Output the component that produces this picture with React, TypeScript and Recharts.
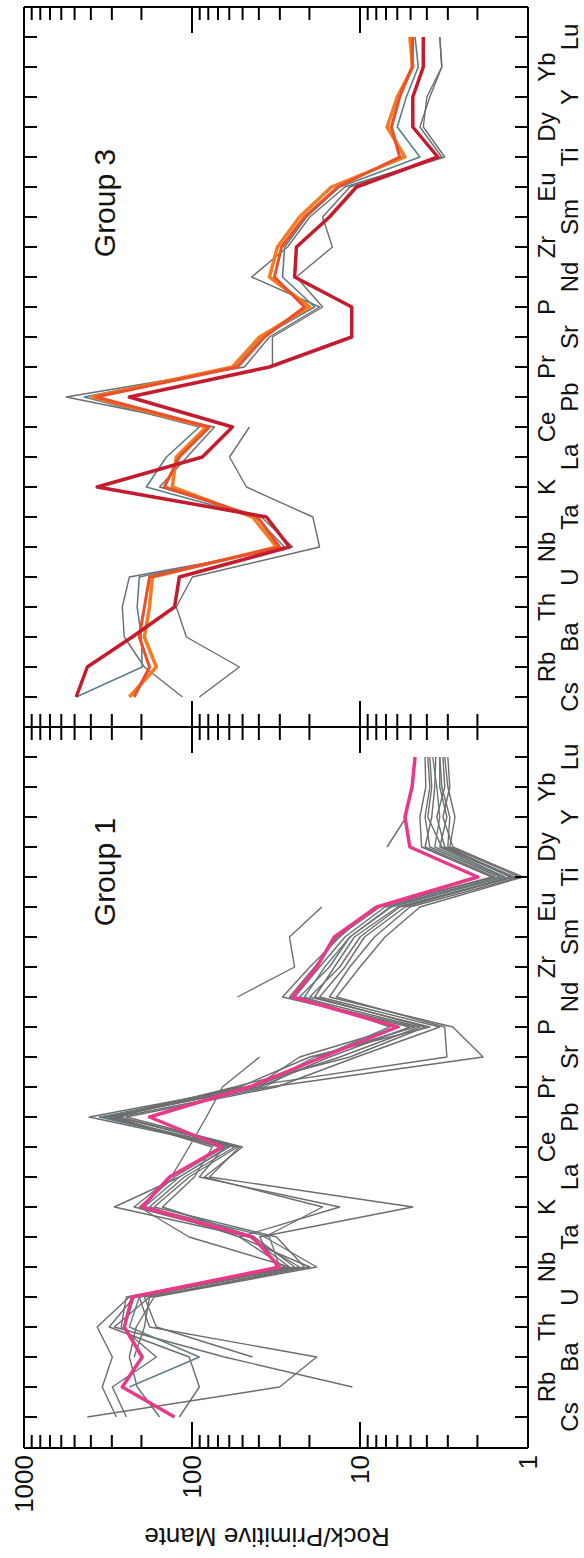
import { LineChart, Line, XAxis, YAxis } from "recharts";

// trace elements, primitive-mantle normalised (spider diagram)
const ELEMENTS = ["Cs", "Rb", "Ba", "Th", "U", "Nb", "Ta", "K", "La", "Ce", "Pb", "Pr", "Sr", "P", "Nd", "Zr", "Sm", "Eu", "Ti", "Dy", "Y", "Yb", "Lu"];
const LOG_TICKS = [1, 2, 3, 4, 5, 6, 7, 8, 9, 10, 20, 30, 40, 50, 60, 70, 80, 90, 100, 200, 300, 400, 500, 600, 700, 800, 900, 1000];
const MAJOR_TICKS = [1, 10, 100, 1000];

type Val = number | null;

// Group 1 samples
const g1Mean: Val[] = [127, 260, 198, 253, 227, 30.1, 43.6, 198, 136, 65.9, 179, 45.5, 16.7, 6.0, 25.2, 18.1, 14.2, 7.95, 1.99, 5.05, 5.4, 4.9, 4.7];
const g1A: Val[] = [420, 30.1, 18.1, 179, 206, 22.9, 45.5, 290, 119, 59.8, 409, 45.5, 13.2, 4.4, 22.9, 15.2, 11.5, 6.65, 1.37, 3.35, 3.04, 3.35, 3.35];
const g1B: Val[] = [null, 11.1, 64.1, 290, 179, 19.9, 52.2, 13.2, 90.4, 64.1, 333, 52.2, 19.9, 3.84, 19.9, 13.2, 10.0, 5.8, 1.2, 3.13, 3.49, 3.13, 3.21];
const g1C: Val[] = [null, null, 43.6, 163, 192, 31.4, 39.6, 4.85, 78.7, 52.2, 271, 34.6, 1.85, 2.8, 15.2, 11.5, 8.2, 5.05, 1.12, 2.92, 2.72, 3.0, 3.13];
const g1D: Val[] = [282, 342, 298, 367, 236, 26.3, 104, 206, 127, 64.1, 311, 42.5, 22.9, 5.8, 24.5, 17.4, 12.3, 7.1, 1.47, 3.84, 4.1, 3.84, 3.95];
const g1E: Val[] = [246, 298, 163, 264, 246, 28.1, 52.2, 179, 111, 55.9, 342, 39.6, 15.2, 5.05, 28.9, 19.9, 13.2, 8.2, 1.57, 4.1, 3.74, 3.59, 3.54];
const g1F: Val[] = [156, 212, 236, 215, 168, 18.1, 37.0, 16.7, 84.4, 50.1, 246, 31.4, 10.5, 3.35, 17.4, 12.3, 9.4, 5.4, 1.28, 3.0, 2.92, 3.26, 3.35];
const g1G: Val[] = [119, 90.4, 104, 311, 221, 24.5, 42.5, 150, 96.8, 75.6, 290, 48.7, 3.04, 3.13, 13.8, 10.0, 7.1, 4.4, 1.07, 2.8, 3.21, 2.92, 3.0];
const g1H: Val[] = [null, 236, 90.4, 236, 206, 30.1, 34.6, 192, 119, 61.5, 357, 37.0, 17.4, 6.65, 21.4, 16.2, 11.5, 6.5, 1.41, 3.59, 3.35, 3.49, 3.69];
const g1I: Val[] = [null, null, 221, 192, 179, 21.4, 31.4, 168, 104, 53.6, 282, 55.9, 11.5, 4.1, 18.6, 14.2, 10.8, 5.96, 1.25, 3.26, 3.95, 3.74, 3.84];
const g1J: Val[] = [null, null, null, 253, 221, 26.3, 45.5, 221, 133, 68.7, 311, 40.7, 18.6, 4.7, 26.3, 18.6, 13.6, 7.6, 1.64, 4.3, 4.4, 4.06, 4.1];
const g1K: Val[] = [null, null, null, null, null, null, null, null, 133, 104, 82.1, 65.9, 39.6, null, 53.6, 24.5, 26.3, 16.9, null, 6.9, 5.3, null, null];

// Group 3 samples
const g3DarkRed: Val[] = [489, 420, 227, 127, 119, 26.3, 36.0, 367, 86.7, 57.4, 236, 34.6, 11.2, 11.2, 24.5, 23.9, 15.2, 10.5, 3.44, 4.85, 4.85, 4.2, 4.2];
const g3Orange: Val[] = [236, 163, 192, 179, 172, 31.4, 43.6, 131, 124, 82.1, 393, 57.4, 39.6, 19.9, 34.6, 31.0, 22.9, 14.8, 5.4, 6.9, 6.0, 4.85, 5.05];
const g3RedOrange: Val[] = [221, 179, 206, 192, 179, 30.1, 40.7, 146, 119, 78.7, 372, 53.6, 37.0, 21.4, 32.3, 29.3, 21.4, 13.6, 5.8, 6.5, 5.8, 4.9, 4.85];
const g3Teal: Val[] = [489, 198, 200, 212, 206, 28.1, 41.9, 187, 142, 90.4, 438, 55.9, 38.6, 18.6, 28.9, 28.1, 20.8, 13.2, 4.4, 6.0, 5.3, 4.5, 4.7];
const g3GrayA: Val[] = [90.4, 52.2, 108, 124, 99.5, 17.4, 19.1, 47.4, 59.8, 45.5, null, 33.2, 33.2, 16.7, 23.9, 14.6, 16.7, 11.5, 3.13, 4.2, 4.0, 3.26, 3.35];
const g3GrayB: Val[] = [114, 192, 253, 260, 236, 25.2, 38.6, 156, 107, 73.5, 561, 48.7, 34.6, 17.4, 44.2, 27.0, 19.9, 12.3, 3.26, 4.4, 3.84, 3.26, 3.35];

const GRAY = "#6d6d6d";
const FONT = '"Liberation Sans", Arial, Helvetica, sans-serif';
const axisStyle = { stroke: "#000", strokeWidth: 2 };

const group1Lines = [
  { key: "a", color: GRAY, w: 1.4 },
  { key: "b", color: GRAY, w: 1.4 },
  { key: "c", color: GRAY, w: 1.4 },
  { key: "d", color: GRAY, w: 1.4 },
  { key: "e", color: GRAY, w: 1.4 },
  { key: "f", color: GRAY, w: 1.4 },
  { key: "g", color: GRAY, w: 1.4 },
  { key: "h", color: "#5f7f84", w: 1.4 },
  { key: "i", color: GRAY, w: 1.4 },
  { key: "j", color: GRAY, w: 1.4 },
  { key: "k", color: GRAY, w: 1.4 },
  { key: "mean", color: "#e8398b", w: 3.5 },
];

const group3Lines = [
  { key: "grayA", color: GRAY, w: 1.4 },
  { key: "grayB", color: GRAY, w: 1.4 },
  { key: "teal", color: "#5b7e8a", w: 1.6 },
  { key: "orange", color: "#f17c21", w: 3.5 },
  { key: "redOrange", color: "#e9502b", w: 3 },
  { key: "darkRed", color: "#c41c2f", w: 3.5 },
];

function buildRows(series: Record<string, Val[]>) {
  return ELEMENTS.map((el, i) => {
    const row: Record<string, string | Val> = { el };
    for (const k of Object.keys(series)) row[k] = series[k][i];
    return row;
  });
}

const group1Rows = buildRows({ mean: g1Mean, a: g1A, b: g1B, c: g1C, d: g1D, e: g1E, f: g1F, g: g1G, h: g1H, i: g1I, j: g1J, k: g1K });
const group3Rows = buildRows({ darkRed: g3DarkRed, orange: g3Orange, redOrange: g3RedOrange, teal: g3Teal, grayA: g3GrayA, grayB: g3GrayB });

function ElementTick(props: any) {
  const { x, y, payload, index, side } = props;
  const dir = side === "bottom" ? -1 : 1;
  return (
    <g>
      <line x1={x} y1={y} x2={x} y2={y + dir * 13} stroke="#000" strokeWidth={2} />
      {side === "bottom" && (
        <text x={x} y={y + (index % 2 === 1 ? 27 : 50)} textAnchor="middle" fontSize={24} fontFamily={FONT} fill="#111">
          {payload.value}
        </text>
      )}
    </g>
  );
}

function LogTick(props: any) {
  const { x, y, payload, side, showLabel } = props;
  const major = MAJOR_TICKS.includes(payload.value);
  const len = major ? 26 : 13;
  const dir = side === "left" ? 1 : -1;
  return (
    <g>
      <line x1={x} y1={y} x2={x + dir * len} y2={y} stroke="#000" strokeWidth={2} />
      {showLabel && major && (
        <text x={x - 7} y={y} textAnchor="end" dominantBaseline="central" fontSize={26} fontFamily={FONT} fill="#111">
          {payload.value}
        </text>
      )}
    </g>
  );
}

interface PanelProps {
  rows: Record<string, string | Val>[];
  lines: { key: string; color: string; w: number }[];
  width: number;
  margin: { top: number; right: number; bottom: number; left: number };
  padding: { left: number; right: number };
  showLabels: boolean;
}

function SpiderPanel({ rows, lines, width, margin, padding, showLabels }: PanelProps) {
  return (
    <LineChart width={width} height={584} data={rows} margin={margin}>
      <XAxis
        xAxisId="b"
        dataKey="el"
        orientation="bottom"
        height={1}
        padding={padding}
        interval={0}
        tickSize={0}
        tickMargin={0}
        axisLine={axisStyle}
        tickLine={false}
        tick={(p: any) => <ElementTick {...p} side="bottom" />}
      />
      <XAxis
        xAxisId="t"
        dataKey="el"
        orientation="top"
        height={1}
        padding={padding}
        interval={0}
        tickSize={0}
        tickMargin={0}
        axisLine={axisStyle}
        tickLine={false}
        tick={(p: any) => <ElementTick {...p} side="top" />}
      />
      <YAxis
        yAxisId="l"
        orientation="left"
        type="number"
        scale="log"
        domain={[1, 1000]}
        allowDataOverflow
        ticks={LOG_TICKS}
        interval={0}
        width={1}
        tickSize={0}
        tickMargin={0}
        axisLine={axisStyle}
        tickLine={false}
        tick={(p: any) => <LogTick {...p} side="left" showLabel={showLabels} />}
      />
      <YAxis
        yAxisId="r"
        orientation="right"
        type="number"
        scale="log"
        domain={[1, 1000]}
        allowDataOverflow
        ticks={LOG_TICKS}
        interval={0}
        width={1}
        tickSize={0}
        tickMargin={0}
        axisLine={axisStyle}
        tickLine={false}
        tick={(p: any) => <LogTick {...p} side="right" showLabel={false} />}
      />
      {lines.map((l) => (
        <Line
          key={l.key}
          xAxisId="b"
          yAxisId="l"
          dataKey={l.key}
          stroke={l.color}
          strokeWidth={l.w}
          strokeLinejoin="round"
          dot={false}
          activeDot={false}
          connectNulls={false}
          isAnimationActive={false}
        />
      ))}
    </LineChart>
  );
}

const labelStyle: React.CSSProperties = {
  position: "absolute",
  fontFamily: FONT,
  color: "#111",
  whiteSpace: "nowrap",
  lineHeight: 1,
};

export default function App() {
  return (
    <div style={{ position: "absolute", left: 0, top: 0, width: 584, height: 1558, overflow: "hidden", background: "#fff" }}>
      <div
        style={{
          position: "absolute",
          left: 0,
          top: 0,
          width: 1558,
          height: 584,
          transformOrigin: "0 0",
          transform: "translateY(1558px) rotate(-90deg)",
        }}
      >
        <div style={{ position: "absolute", left: 0, top: 0 }}>
          <SpiderPanel
            rows={group1Rows}
            lines={group1Lines}
            width={840}
            margin={{ top: 23, right: 8, bottom: 55, left: 109 }}
            padding={{ left: 31, right: 30 }}
            showLabels
          />
        </div>
        <div style={{ position: "absolute", left: 822, top: 0 }}>
          <SpiderPanel
            rows={group3Rows}
            lines={group3Lines}
            width={736}
            margin={{ top: 23, right: 6, bottom: 55, left: 8 }}
            padding={{ left: 30, right: 30 }}
            showLabels={false}
          />
        </div>
        <div style={{ ...labelStyle, left: 686, top: 105, fontSize: 30, transform: "translate(-50%, -50%)" }}>Group 1</div>
        <div style={{ ...labelStyle, left: 1355, top: 105, fontSize: 30, transform: "translate(-50%, -50%)" }}>Group 3</div>
        <div style={{ ...labelStyle, left: 21, top: 267, fontSize: 26, transform: "translate(-50%, -50%) rotate(-90deg)" }}>
          Rock/Primitive Mante
        </div>
      </div>
    </div>
  );
}
